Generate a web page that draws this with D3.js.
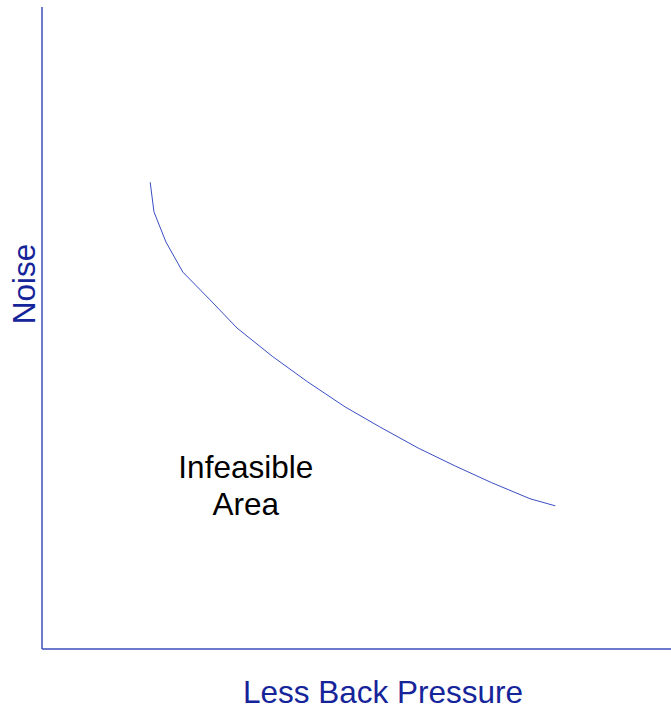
<!DOCTYPE html>
<html>
<head>
<meta charset="utf-8">
<script src="https://cdn.jsdelivr.net/npm/d3@7"></script>
<style>
  body { margin: 0; background: #fff; }
  text { font-family: "Liberation Sans", Arial, sans-serif; }
</style>
</head>
<body>
<div id="chart"></div>
<script>
// Frontier curve (arbitrary units, 0-100 on both axes)
const backPressure = [17.2, 17.8, 19.7, 22.4, 26.6, 31.0, 36.6, 42.1, 48.2, 53.7, 59.8, 65.7, 71.5, 77.6, 81.6];
const noise        = [72.7, 68.1, 63.4, 58.7, 54.5, 50.0, 45.6, 41.7, 37.7, 34.6, 31.3, 28.5, 25.9, 23.4, 22.3];
const areaLabel = ["Infeasible", "Area"];
const areaPos = [32.4, 26.7];

const width = 671, height = 710;
const plot = { left: 42, right: 671, top: 7, bottom: 649 };

const svg = d3.select("#chart").append("svg")
    .attr("width", width)
    .attr("height", height);

const x = d3.scaleLinear().domain([0, 100]).range([plot.left, plot.right]);
const y = d3.scaleLinear().domain([0, 100]).range([plot.bottom, plot.top]);

const axisColor = "#3b4cbc";
const textColor = "#16249a";
const fontSize = 31.5;

// axes (plain lines, no ticks)
svg.append("line")
    .attr("x1", x(0)).attr("x2", x(0))
    .attr("y1", y(100)).attr("y2", y(0))
    .attr("stroke", axisColor).attr("stroke-width", 1.5);
svg.append("line")
    .attr("x1", x(0)).attr("x2", x(100))
    .attr("y1", y(0)).attr("y2", y(0))
    .attr("stroke", axisColor).attr("stroke-width", 1.5);

// curve
const pts = backPressure.map((v, i) => [v, noise[i]]);
svg.append("path")
    .datum(pts)
    .attr("d", d3.line().x(d => x(d[0])).y(d => y(d[1])))
    .attr("fill", "none")
    .attr("stroke", "#3a4ec4")
    .attr("stroke-width", 1);

// axis titles
svg.append("text")
    .attr("x", 383).attr("y", 703)
    .attr("text-anchor", "middle")
    .attr("font-size", fontSize)
    .attr("fill", textColor)
    .text("Less Back Pressure");

svg.append("text")
    .attr("transform", "translate(35,284) rotate(-90)")
    .attr("text-anchor", "middle")
    .attr("font-size", fontSize)
    .attr("fill", textColor)
    .text("Noise");

// area label
svg.append("text")
    .attr("x", x(areaPos[0])).attr("y", y(areaPos[1]))
    .attr("text-anchor", "middle")
    .attr("font-size", fontSize)
    .attr("fill", "#000")
    .selectAll("tspan")
    .data(areaLabel)
    .join("tspan")
    .attr("x", x(areaPos[0]))
    .attr("dy", (d, i) => i === 0 ? 0 : 37)
    .text(d => d);
</script>
</body>
</html>
